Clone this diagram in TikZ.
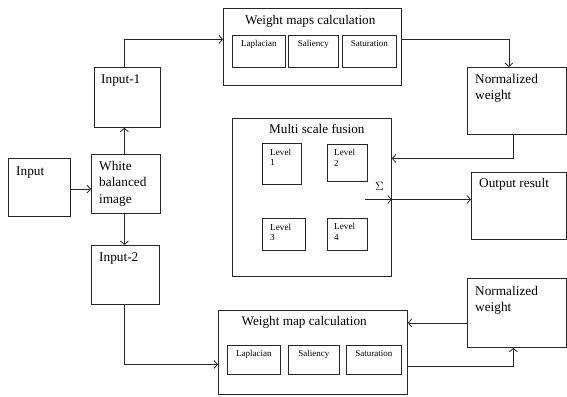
\documentclass[tikz,border=0pt]{standalone}
\usepackage{fontspec}
\setmainfont{Liberation Serif}
\usetikzlibrary{arrows.meta,calc}
\begin{document}
\begin{tikzpicture}[x=1pt,y=-1pt,
  box/.style={draw=black!85, line width=0.8pt, inner sep=0pt, anchor=north west},
  big/.style={font=\fontsize{13.3}{16.5}\selectfont, anchor=base west, inner sep=0pt, align=left},
  mid/.style={font=\fontsize{13.2}{16}\selectfont, anchor=base west, inner sep=0pt},
  small/.style={font=\fontsize{9}{11}\selectfont, anchor=base, inner sep=0pt},
  lvl/.style={font=\fontsize{9.2}{10.7}\selectfont, anchor=base west, inner sep=0pt, align=left},
  arr/.style={draw=black!85, line width=0.8pt, -{Straight Barb[length=3.5pt,width=8pt]}},
  ln/.style={draw=black!85, line width=0.8pt}
]
\useasboundingbox (0,0) rectangle (567,396);
% boxes
\node[box, minimum width=62pt, minimum height=58pt] (inp) at (8,158) {};
\node[box, minimum width=69pt, minimum height=59pt] (wb) at (91,154) {};
\node[box, minimum width=66pt, minimum height=60pt] (in1) at (94,67) {};
\node[box, minimum width=68pt, minimum height=59pt] (in2) at (91,245) {};
\node[box, minimum width=178pt, minimum height=77pt] (wtop) at (223,8) {};
\node[box, minimum width=53pt, minimum height=32pt] (lap1) at (232,35) {};
\node[box, minimum width=50pt, minimum height=32pt] (sal1) at (288,35) {};
\node[box, minimum width=54pt, minimum height=32pt] (sat1) at (342,35) {};
\node[box, minimum width=99pt, minimum height=67pt] (nwtop) at (467,67) {};
\node[box, minimum width=159pt, minimum height=158pt] (msf) at (232,118) {};
\node[box, minimum width=39pt, minimum height=41pt] (l1) at (262,143) {};
\node[box, minimum width=40pt, minimum height=37pt] (l2) at (327,144) {};
\node[box, minimum width=43pt, minimum height=32pt] (l3) at (262,218) {};
\node[box, minimum width=40pt, minimum height=32pt] (l4) at (327,218) {};
\node[box, minimum width=95pt, minimum height=67pt] (out) at (471,172) {};
\node[box, minimum width=99pt, minimum height=69pt] (nwbot) at (467,278) {};
\node[box, minimum width=189pt, minimum height=84pt] (wbot) at (218,310) {};
\node[box, minimum width=53pt, minimum height=29pt] (lap2) at (227,345) {};
\node[box, minimum width=51pt, minimum height=29pt] (sal2) at (288,345) {};
\node[box, minimum width=55pt, minimum height=29pt] (sat2) at (346,345) {};
% texts (multi-line nodes anchored at the baseline of their last line)
\node[big] (tinp) at (16,175.5) {Input};
\node[big] (twb) at (99,203) {White\\balanced\\image};
\node[big] (tin1) at (101,83) {Input-1};
\node[big] (tin2) at (99,261) {Input-2};
\node[big] (tnw1) at (475,99.5) {Normalized\\weight};
\node[big] (tnw2) at (475,311.5) {Normalized\\weight};
\node[big] (tout) at (479,187) {Output result};
\node[mid] (twt) at (245,25) {Weight maps calculation};
\node[mid] (tmsf) at (269,133.5) {Multi scale fusion};
\node[mid] (twb2) at (241.5,325.5) {Weight map calculation};
\node[small] at ([yshift=-11.7pt]lap1.north) {Laplacian};
\node[small] at ([yshift=-11.7pt]sal1.north) {Saliency};
\node[small] at ([yshift=-11.7pt]sat1.north) {Saturation};
\node[small] at ([yshift=-11pt]lap2.north) {Laplacian};
\node[small] at ([yshift=-11pt]sal2.north) {Saliency};
\node[small] at ([yshift=-11pt]sat2.north) {Saturation};
\node[lvl] at (270,165.7) {Level\\1};
\node[lvl] at (334,166) {Level\\2};
\node[lvl] at (270,240.7) {Level\\3};
\node[lvl] at (334,240) {Level\\4};
\node[font=\fontsize{12}{14}\selectfont, anchor=base west, inner sep=0pt] (sig) at (375,190) {$\Sigma$};
\coordinate (sigs) at (365,199.5);
% connectors
\draw[arr] (inp.east |- 0,189) -- (wb.west |- 0,189);
\draw[arr] ([xshift=-1.5pt]wb.north) -- ([xshift=-1.5pt]wb.north |- in1.south);
\draw[arr] ([xshift=-1.5pt]wb.south) -- ([xshift=-1.5pt]wb.south |- in2.north);
\draw[arr] ([xshift=-3pt]in1.north) |- ([yshift=7.5pt]wtop.west);
\draw[arr] ([yshift=7.5pt]wtop.east) -| ([xshift=-8pt]nwtop.north);
\draw[arr] ([xshift=-3.5pt]nwtop.south) |- ([yshift=39pt]msf.east);
\draw[arr] (sigs) -- (sigs -| msf.east);
\draw[arr] (sigs -| msf.east) -- (sigs -| out.west);
\draw[arr] ([xshift=-1pt]in2.south) |- ([yshift=-12pt]wbot.west);
\draw[arr] ([yshift=-10pt]nwbot.west) -- ([yshift=-10pt]nwbot.west -| wbot.east);
\draw[arr] ([yshift=-14pt]wbot.east) -| ([xshift=-3.5pt]nwbot.south);
\end{tikzpicture}
\end{document}
